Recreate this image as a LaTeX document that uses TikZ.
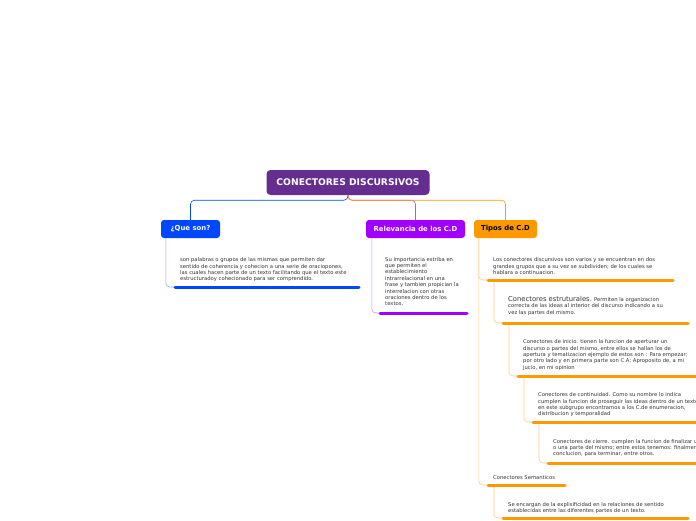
\documentclass[tikz,border=0pt]{standalone}
\usepackage{fontspec}
\setmainfont{DejaVu Sans}
\definecolor{rootc}{HTML}{662D91}
\definecolor{bluec}{HTML}{0047FF}
\definecolor{violc}{HTML}{A100FF}
\definecolor{orc}{HTML}{FF9900}
\definecolor{bluel}{HTML}{8FAAFF}
\definecolor{violm}{HTML}{B84DFF}
\definecolor{violl}{HTML}{D08CFF}
\definecolor{orl}{HTML}{FFCC80}
\definecolor{txt}{HTML}{333333}
\begin{document}
\begin{tikzpicture}[x=1pt,y=-1pt,
 topic/.style={rounded corners=3pt, minimum height=18pt, inner sep=0pt, font=\fontsize{6.9}{7.5}\selectfont\bfseries},
 body/.style={anchor=north west, inner sep=0pt, align=left, text=txt, font=\fontsize{5.25}{6.4}\selectfont},
 uline/.style={line width=3pt, line cap=round},
 conn/.style={line width=0.6pt, rounded corners=4pt}]
\useasboundingbox (0,0) rectangle (696,520);
\begin{scope}
\clip (0,0) rectangle (696,520);
% main nodes
\node[fill=rootc, text=white, rounded corners=4pt, minimum width=163pt, minimum height=25pt, inner sep=0pt, font=\fontsize{9.2}{10}\selectfont\bfseries] (root) at (348,182.5) {CONECTORES DISCURSIVOS};
\node[topic, fill=bluec, text=white, minimum width=59pt] (qs) at (190.5,229) {¿Que son?};
\node[topic, fill=violc, text=white, minimum width=99pt] (rel) at (415.5,229) {Relevancia de los C.D};
\node[topic, fill=orc, text=black, minimum width=63pt] (tip) at (505.5,229) {Tipos de C.D};
% top connectors
\draw[conn, violm] (root.south) -- ++(0,5) -| (rel.north);
\draw[conn, bluec] (root.south) -- ++(0,5) -| (qs.north);
\draw[conn, orc] (root.south) -- ++(0,5) -| (tip.north);
% que son
\coordinate (qsA) at (175,287); \coordinate (qsB) at (359,287);
\draw[conn, bluel] ([xshift=5pt]qs.south west) |- (qsA);
\draw[uline, bluec] (qsA) -- (qsB);
\node[body] (qst) at (180,257.5) {son  palabras o grupos de las mismas que permiten dar\\sentido de coherencia y cohecion a una serie de oraciopones,\\las cuales hacen parte de un texto facilitando que el texto este\\estructuradoy cohecionado para ser comprendido.};
% relevancia
\coordinate (rlA) at (380,313); \coordinate (rlB) at (467,313);
\draw[conn, violl] ([xshift=6pt]rel.south west) |- (rlA);
\draw[uline, violc] (rlA) -- (rlB);
\node[body] (rlt) at (385,257) {Su importancia estriba en\\que permiten el\\establecimiento\\intrarrelacional  en una\\frase y tambien propician la\\interrelacion con otras\\oraciones dentro de los\\textos.};
% tipos
\coordinate (t1A) at (488,280); \coordinate (t1B) at (673,280);
\coordinate (t2A) at (503,323); \coordinate (t2B) at (688,323);
\coordinate (t3A) at (518,376); \coordinate (t3B) at (705,376);
\coordinate (t4A) at (533,422); \coordinate (t4B) at (705,422);
\coordinate (t5A) at (548,463); \coordinate (t5B) at (705,463);
\coordinate (t6A) at (488,485); \coordinate (t6B) at (565,485);
\coordinate (t7A) at (503,518); \coordinate (t7B) at (688,518);
\draw[conn, orl] ([xshift=5pt]tip.south west) |- (t6A);
\draw[conn, orl] ([xshift=5pt]tip.south west) |- (t1A);
\draw[conn, orl] ([xshift=6pt]t1A) |- (t2A);
\draw[conn, orl] ([xshift=6pt]t2A) |- (t3A);
\draw[conn, orl] ([xshift=6pt]t3A) |- (t4A);
\draw[conn, orl] ([xshift=6pt]t4A) |- (t5A);
\draw[conn, orl] ([xshift=6pt]t6A) |- (t7A);
\foreach \i in {1,...,7} {\draw[uline, orc] (t\i A) -- (t\i B);}
\node[body] (t1t) at (493,257.5) {Los conectores discursivos son varios y  se encuentran en dos\\grandes grupos que a su vez se subdividen; de los cuales se\\hablara a continuacion.};
\node[body] (t2t) at (508,296) {{\fontsize{6.8}{7}\selectfont Conectores estruturales.} Permiten la organizacion\\correcta de las ideas al interior del discurso indicando a su\\vez las partes del mismo.};
\node[body] (t3t) at (523,339.5) {Conectores de inicio. tienen la funcion de aperturar un\\discurso o partes del mismo, entre ellos se hallan los de\\apertura y tematizacion ejemplo de estos son : Para empezar;\\por otro lado y en primera parte son C.A; Aproposito de, a mi\\jucio, en mi opinion};
\node[body] (t4t) at (538,392.5) {Conectores de continuidad.  Como su nombre lo indica\\cumplen la funcion de proseguir las ideas dentro de un texto\\en este subgrupo encontramos a los C.de enumeracion,\\distribucion y temporalidad};
\node[body] (t5t) at (553,439) {Conectores de cierre. cumplen la funcion de finalizar un texto\\o una parte del mismo; entre estos tenemos: finalmente,\\conclucion, para terminar, entre otros.};
\node[body] (t6t) at (493,475) {Conectores Semanticos};
\node[body] (t7t) at (508,502) {Se encargan de la explisificidad en la relaciones de sentido\\establecidas entre las diferentes partes de un texto.};
\end{scope}
\end{tikzpicture}
\end{document}
